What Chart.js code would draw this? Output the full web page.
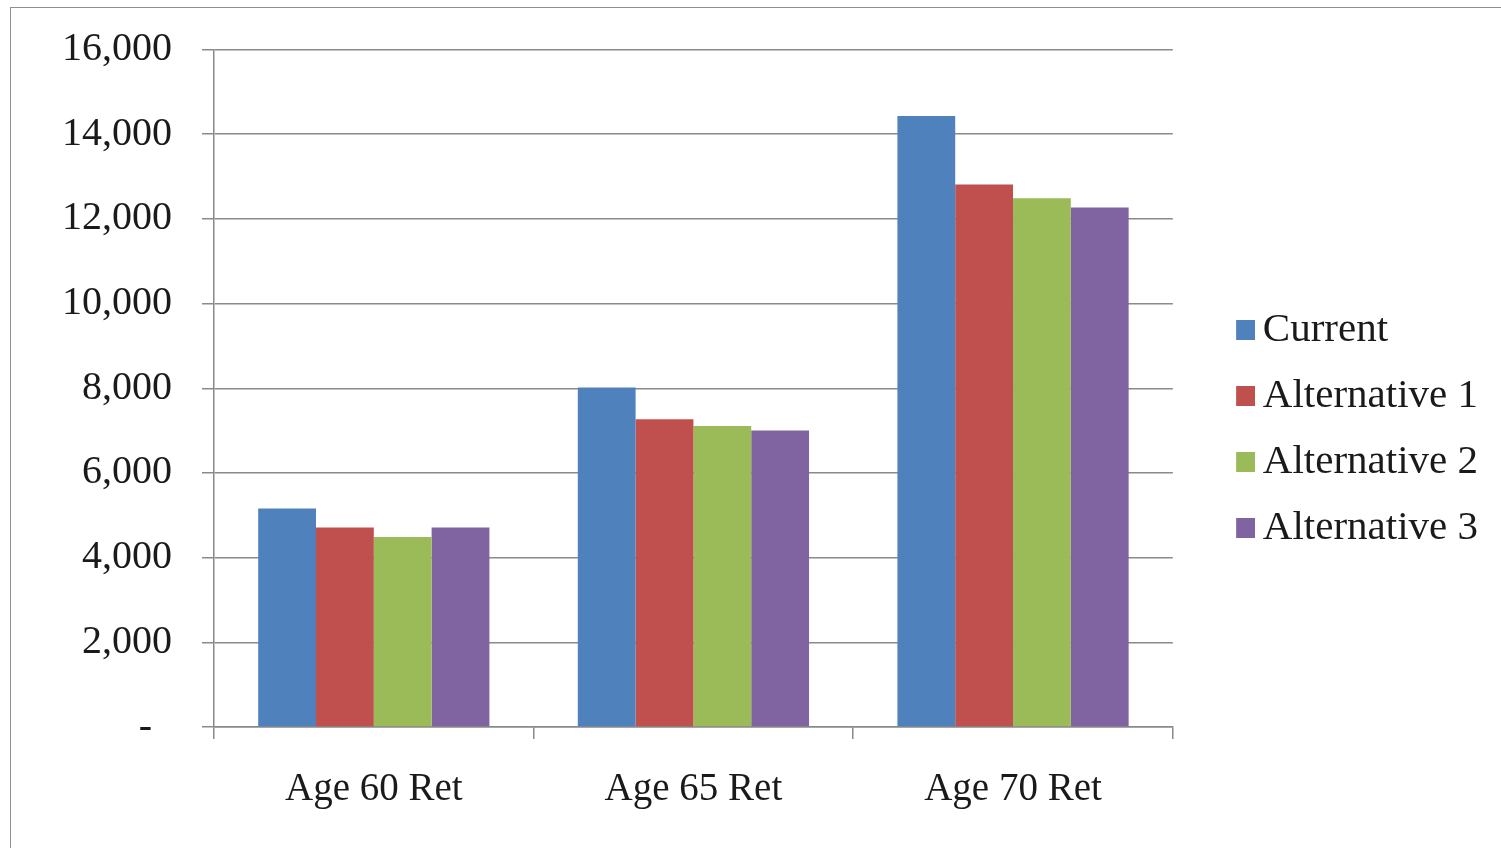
<!DOCTYPE html>
<html>
<head>
<meta charset="utf-8">
<script src="https://cdn.jsdelivr.net/npm/chart.js@4.4.1/dist/chart.umd.min.js"></script>
<style>
  html, body { margin: 0; padding: 0; background: #fff; overflow: hidden; }
  #frame { position: absolute; left: 10px; top: 7px; width: 1600px; height: 1000px; border: 1.5px solid #8f8f8f; }
  #wrap { position: absolute; left: 0; top: 0; width: 1501px; height: 848px; }
</style>
</head>
<body>
<div id="frame"></div>
<div id="wrap"><canvas id="chart" width="1501" height="848"></canvas></div>
<script>
const categories = ["Age 60 Ret", "Age 65 Ret", "Age 70 Ret"];
const seriesNames = ["Current", "Alternative 1", "Alternative 2", "Alternative 3"];
const current = [5160, 8020, 14430];
const alternative1 = [4710, 7270, 12810];
const alternative2 = [4490, 7110, 12490];
const alternative3 = [4710, 7000, 12270];
const seriesColors = ["#4F81BD", "#C0504D", "#9BBB59", "#8064A2"];

const yMin = 0;
const yMax = 16000;
const yStep = 2000;

const gridColor = "#8a8a8a";
const serif = "'Liberation Serif', 'Times New Roman', serif";

Chart.defaults.font.family = serif;
Chart.defaults.font.size = 39;
Chart.defaults.color = "#1a1a1a";

// legend swatch: a square sitting at the right end of a wider transparent strip,
// so it lands close to its label text
function makeSwatch(color) {
  const c = document.createElement("canvas");
  c.width = 70;
  c.height = 20;
  const ctx = c.getContext("2d");
  ctx.fillStyle = color;
  ctx.fillRect(51, 0, 19, 20);
  return c;
}
const swatches = seriesColors.map(makeSwatch);

const datasets = [current, alternative1, alternative2, alternative3].map((values, i) => ({
  label: seriesNames[i],
  data: values,
  backgroundColor: seriesColors[i],
  borderWidth: 0,
  categoryPercentage: 0.7235,
  barPercentage: 1,
}));

new Chart(document.getElementById("chart"), {
  type: "bar",
  data: { labels: categories, datasets },
  options: {
    responsive: false,
    animation: false,
    layout: { padding: { top: 24, bottom: 14, left: 0, right: 13 } },
    plugins: {
      tooltip: { enabled: false },
      legend: {
        position: "right",
        labels: {
          usePointStyle: true,
          pointStyleWidth: 44.5,
          padding: 25,
          color: "#1a1a1a",
          font: { family: serif, size: 41 },
          generateLabels: chart =>
            Chart.defaults.plugins.legend.labels.generateLabels(chart).map((item, i) => ({
              ...item,
              pointStyle: swatches[i],
            })),
        },
      },
    },
    scales: {
      x: {
        grid: {
          offset: true,
          drawOnChartArea: false,
          drawTicks: true,
          tickLength: 12,
          color: gridColor,
          lineWidth: 1.5,
        },
        border: { color: gridColor, width: 1.5 },
        ticks: { padding: 27, maxRotation: 0 },
        afterFit: scale => { scale.height = 107; },
      },
      y: {
        min: yMin,
        max: yMax,
        ticks: {
          stepSize: yStep,
          padding: 30,
          font: { family: serif, size: 40 },
          callback: v => (v === 0 ? "-  " : v.toLocaleString("en-US")),
        },
        grid: { color: gridColor, lineWidth: 1.5, tickLength: 12 },
        border: { color: gridColor, width: 1.5 },
        afterFit: scale => {
          scale.width = 214;
          scale.paddingTop = 49.5;
        },
      },
    },
  },
});
</script>
</body>
</html>
